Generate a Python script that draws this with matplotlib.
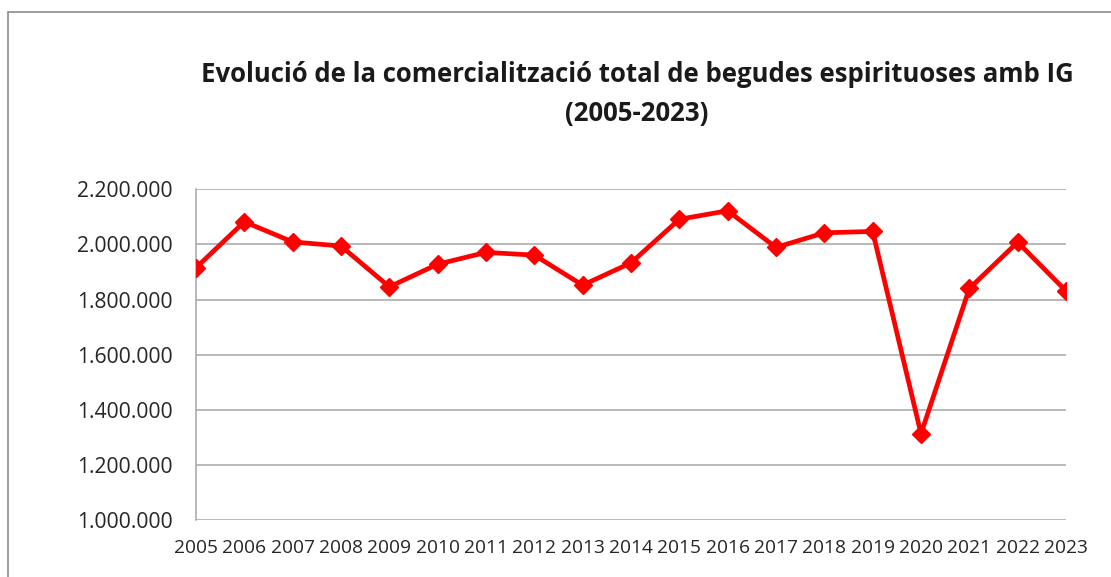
import matplotlib
matplotlib.use('Agg')
import matplotlib.pyplot as plt
from matplotlib.ticker import FuncFormatter
from matplotlib.patches import Rectangle

years = [2005, 2006, 2007, 2008, 2009, 2010, 2011, 2012, 2013, 2014,
         2015, 2016, 2017, 2018, 2019, 2020, 2021, 2022, 2023]
litres = [1915000, 2082000, 2009000, 1994000, 1846000, 1928000, 1971000,
          1961000, 1852000, 1933000, 2091000, 2122000, 1989000, 2042000,
          2047000, 1313000, 1840000, 2008000, 1831000]
yticks = [1000000, 1200000, 1400000, 1600000, 1800000, 2000000, 2200000]
title = "Evolució de la comercialització total de begudes espirituoses amb IG\n(2005-2023)"

plt.rcParams['font.family'] = ['Open Sans', 'DejaVu Sans']

fig = plt.figure(figsize=(11.11, 5.77), dpi=100)
ax = fig.add_axes([0.1764, 0.0988, 0.9595 - 0.1764, 0.672 - 0.0988])

# outer chart frame (clipped on right/bottom like the original)
fig.patches.append(Rectangle((8 / 1111, -0.1), 1.2, 1 - 12 / 577 + 0.1,
                             transform=fig.transFigure, fill=False,
                             edgecolor='#8c8c8c', linewidth=1.2))

ax.plot(range(len(years)), litres, color='#ff0000', linewidth=3.4,
        marker='D', markersize=9, solid_joinstyle='miter', zorder=3)

ax.set_xlim(0, len(years) - 1)
ax.set_ylim(1000000, 2200000)
ax.set_yticks(yticks)
ax.set_xticks(range(len(years)))
ax.set_xticklabels([str(y) for y in years])
ax.yaxis.set_major_formatter(FuncFormatter(lambda v, p: f"{int(v):,}".replace(',', '.')))
ax.grid(axis='y', color='#a6a6a6', linewidth=1.1)
ax.set_axisbelow(True)
for s in ['top', 'right', 'bottom']:
    ax.spines[s].set_visible(False)
ax.spines['left'].set_color('#a6a6a6')
ax.spines['left'].set_linewidth(1.1)
ax.tick_params(length=0, colors='#262626')
ax.tick_params(axis='y', labelsize=15.2, pad=17)
ax.tick_params(axis='x', labelsize=13.8, pad=14)

fig.text(637 / 1111, 1 - 94 / 577, title, ha='center', va='center',
         fontsize=18.5, fontweight='bold', linespacing=1.6, color='#1a1a1a')

fig.savefig('out.png', dpi=100)
